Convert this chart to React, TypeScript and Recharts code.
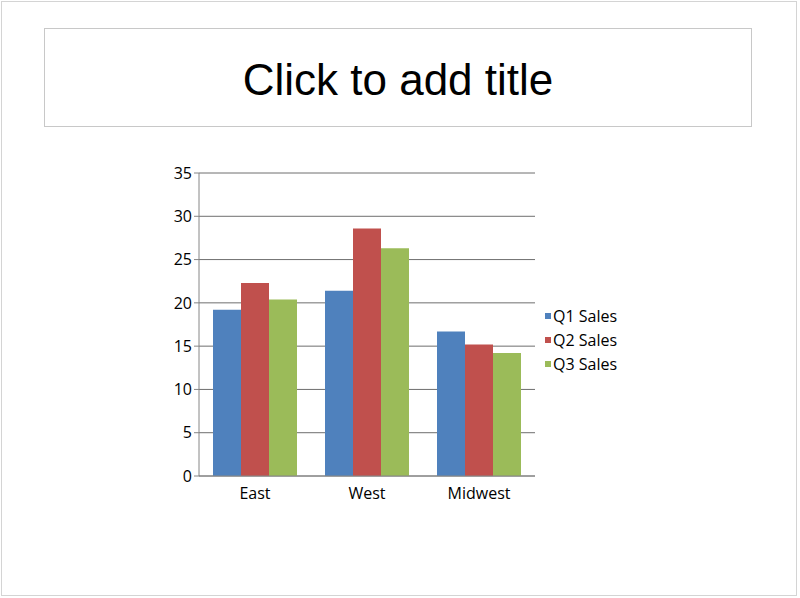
import React from 'react';
import { BarChart, Bar, XAxis, YAxis, CartesianGrid, Legend } from 'recharts';

const categories = ['East', 'West', 'Midwest'];
const q1Sales = [19.2, 21.4, 16.7];
const q2Sales = [22.3, 28.6, 15.2];
const q3Sales = [20.4, 26.3, 14.2];
const yTicks = [0, 5, 10, 15, 20, 25, 30, 35];
const edgeTicks = [0, 1, 2, 3];

const seriesNames = ['Q1 Sales', 'Q2 Sales', 'Q3 Sales'];
const seriesKeys = ['q1', 'q2', 'q3'];
const seriesColors = ['#4F81BD', '#C0504D', '#9BBB59'];

const data = categories.map((c, i) => ({ name: c, q1: q1Sales[i], q2: q2Sales[i], q3: q3Sales[i] }));

const font = "'Open Sans', sans-serif";

const LegendContent = () => (
  <div style={{ fontFamily: font, fontSize: 16, color: '#000' }}>
    {seriesNames.map((n, i) => (
      <div key={n} style={{ display: 'flex', alignItems: 'center', height: 24 }}>
        <span style={{ display: 'inline-block', width: 6, height: 6, background: seriesColors[i], marginRight: 2 }} />
        <span>{n}</span>
      </div>
    ))}
  </div>
);

export default function App() {
  return (
    <div style={{ position: 'absolute', left: 0, top: 0, width: 800, height: 598, background: '#fff', overflow: 'hidden' }}>
      <div style={{ position: 'absolute', left: 1, top: 1, width: 796, height: 595, border: '1px solid #d4d4d4', boxSizing: 'border-box' }} />
      <div
        style={{
          position: 'absolute', left: 44, top: 28, width: 708, height: 99, border: '1px solid #c8c8c8', boxSizing: 'border-box',
          display: 'flex', alignItems: 'center', justifyContent: 'center', paddingTop: 4,
          fontFamily: "'Liberation Sans', Arial, sans-serif", fontSize: 44, color: '#000',
        }}
      >
        Click to add title
      </div>
      <div style={{ position: 'absolute', left: 0, top: 0 }}>
        <BarChart
          width={800}
          height={598}
          data={data}
          margin={{ top: 173, right: 265, bottom: 92, left: 159 }}
          barCategoryGap="12.5%"
          barGap={0}
        >
          <CartesianGrid horizontal vertical={false} stroke="#6e6e6e" strokeWidth={1} />
          <XAxis
            xAxisId="edges"
            type="number"
            domain={[0, 3]}
            ticks={edgeTicks}
            tick={false}
            axisLine={false}
            tickLine={{ stroke: '#868686' }}
            tickSize={5}
            height={0}
          />
          <XAxis
            dataKey="name"
            axisLine={{ stroke: '#868686' }}
            tickLine={false}
            tickSize={5}
            tickMargin={7}
            height={30}
            tick={{ fill: '#000', fontFamily: font, fontSize: 16 }}
          />
          <YAxis
            domain={[0, 35]}
            ticks={yTicks}
            width={40}
            axisLine={{ stroke: '#868686' }}
            tickLine={{ stroke: '#868686' }}
            tickSize={5}
            tickMargin={2}
            tick={{ fill: '#000', fontFamily: font, fontSize: 16 }}
          />
          {seriesKeys.map((k, i) => (
            <Bar key={k} dataKey={k} name={seriesNames[i]} fill={seriesColors[i]} isAnimationActive={false} />
          ))}
          <Legend
            layout="vertical"
            align="center"
            verticalAlign="middle"
            content={<LegendContent />}
            wrapperStyle={{ position: 'absolute', left: 545, top: 304, width: 100, height: 'auto' }}
          />
        </BarChart>
      </div>
    </div>
  );
}
